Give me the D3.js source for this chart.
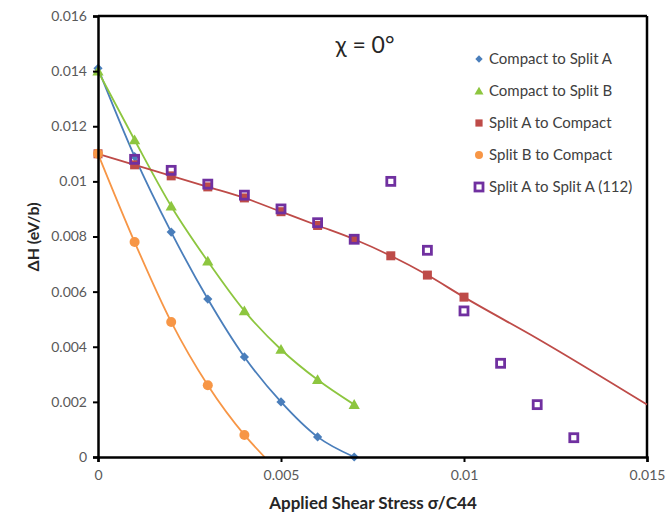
<!DOCTYPE html>
<html>
<head>
<meta charset="utf-8">
<script src="https://cdn.jsdelivr.net/npm/d3@7"></script>
<style>
  body { margin: 0; background: #fff; }
  text { font-family: Lato, "Open Sans", sans-serif; }
</style>
</head>
<body>
<div id="chart"></div>
<script>
// data
var stress = [0, 0.001, 0.002, 0.003, 0.004, 0.005, 0.006, 0.007, 0.008, 0.009, 0.010, 0.011, 0.012, 0.013];
var compactToSplitA = [0.0141, 0.0109, 0.00816, 0.00573, 0.00363, 0.0020, 0.00073, 0.0];
var compactToSplitB = [0.0140, 0.0115, 0.0091, 0.0071, 0.0053, 0.0039, 0.0028, 0.0019];
var splitAToCompact = [0.0110, 0.0106, 0.0102, 0.0098, 0.0094, 0.0089, 0.0084, 0.0079, 0.0073, 0.0066, 0.0058];
var splitBToCompact = [0.0110, 0.0078, 0.0049, 0.0026, 0.0008];
var splitAToSplitA = [null, 0.0108, 0.0104, 0.0099, 0.0095, 0.0090, 0.0085, 0.0079, 0.0100, 0.0075, 0.0053, 0.0034, 0.0019, 0.0007];
// where the trend curves run past the last marker
var splitAExtend = [[0.012, 0.0043], [0.015, 0.0019]];
var splitBExtend = [[0.00455, 0.0]];

var xTicks = [0, 0.005, 0.01, 0.015];
var yTicks = [0, 0.002, 0.004, 0.006, 0.008, 0.01, 0.012, 0.014, 0.016];

// set the dimensions and margins of the graph
var margin = { top: 16, right: 21, bottom: 58, left: 98 },
    width = 668 - margin.left - margin.right,
    height = 515 - margin.top - margin.bottom;

var svg = d3.select("#chart")
    .append("svg")
    .attr("width", 668)
    .attr("height", 515);

var g = svg.append("g")
    .attr("transform", "translate(" + margin.left + "," + margin.top + ")");

var x = d3.scaleLinear().domain([0, 0.015]).range([0, width]);
var y = d3.scaleLinear().domain([0, 0.016]).range([height, 0]);

function pts(vals) {
    var out = [];
    vals.forEach(function (v, i) { if (v !== null) out.push([stress[i], v]); });
    return out;
}

var series = [
    { name: "Compact to Split A", color: "#4A7EBB", shape: "diamond", pts: pts(compactToSplitA), line: pts(compactToSplitA) },
    { name: "Compact to Split B", color: "#8DC63F", shape: "triangle", pts: pts(compactToSplitB), line: pts(compactToSplitB) },
    { name: "Split A to Compact", color: "#BE4B48", shape: "square", pts: pts(splitAToCompact), line: pts(splitAToCompact).concat(splitAExtend) },
    { name: "Split B to Compact", color: "#F79646", shape: "circle", pts: pts(splitBToCompact), line: pts(splitBToCompact).concat(splitBExtend) },
    { name: "Split A to Split A (112)", color: "#7030A0", shape: "open", pts: pts(splitAToSplitA), line: null }
];

var line = d3.line()
    .x(function (d) { return x(d[0]); })
    .y(function (d) { return y(d[1]); })
    .curve(d3.curveMonotoneX);

// frame top/right
g.append("line").attr("x1", 0).attr("x2", width).attr("y1", 0).attr("y2", 0)
    .attr("stroke", "#000").attr("stroke-width", 2.5);
g.append("line").attr("x1", width).attr("x2", width).attr("y1", 0).attr("y2", height)
    .attr("stroke", "#000").attr("stroke-width", 2.5);

// curves
series.forEach(function (s) {
    if (!s.line) return;
    g.append("path")
        .datum(s.line)
        .attr("fill", "none")
        .attr("stroke", s.color)
        .attr("stroke-width", 1.8)
        .attr("d", line);
});

function drawMarker(sel, s, cx, cy, scale) {
    var k = scale || 1;
    if (s.shape === "diamond") {
        var r = 4.6 * k;
        sel.append("path")
            .attr("d", "M0," + (-r) + "L" + r + ",0L0," + r + "L" + (-r) + ",0Z")
            .attr("transform", "translate(" + cx + "," + cy + ")")
            .attr("fill", s.color);
    } else if (s.shape === "triangle") {
        sel.append("path")
            .attr("d", d3.symbol().type(d3.symbolTriangle).size(55 * k * k)())
            .attr("transform", "translate(" + cx + "," + (cy + 1) + ")")
            .attr("fill", s.color);
    } else if (s.shape === "square") {
        var a = 9 * k;
        sel.append("rect")
            .attr("x", cx - a / 2).attr("y", cy - a / 2)
            .attr("width", a).attr("height", a)
            .attr("fill", s.color);
    } else if (s.shape === "circle") {
        sel.append("circle")
            .attr("cx", cx).attr("cy", cy).attr("r", 5 * k)
            .attr("fill", s.color);
    } else {
        var b = 8 * k;
        sel.append("rect")
            .attr("x", cx - b / 2).attr("y", cy - b / 2)
            .attr("width", b).attr("height", b)
            .attr("fill", "none")
            .attr("stroke", s.color)
            .attr("stroke-width", 2.8);
    }
}

// markers
series.forEach(function (s) {
    var mg = g.append("g");
    s.pts.forEach(function (d) {
        drawMarker(mg, s, x(d[0]), y(d[1]));
    });
});

// axes
var xAxis = g.append("g")
    .attr("transform", "translate(0," + height + ")")
    .call(d3.axisBottom(x).tickValues(xTicks).tickSize(5).tickFormat(function (d) { return d3.format("~g")(d); }));
var yAxis = g.append("g")
    .call(d3.axisLeft(y).tickValues(yTicks).tickSize(5).tickFormat(function (d) { return d3.format("~g")(d); }));

[xAxis, yAxis].forEach(function (ax) {
    ax.select(".domain").attr("stroke", "#000").attr("stroke-width", 2.5);
    ax.selectAll(".tick line").attr("stroke", "#000").attr("stroke-width", 2);
    ax.selectAll(".tick text")
        .attr("fill", "#595959")
        .style("font-family", "Lato, sans-serif")
        .style("font-size", "14px");
});
xAxis.selectAll(".tick text").attr("dy", "1.1em").attr("y", 8);
yAxis.selectAll(".tick text").attr("x", -11);

// axis titles
svg.append("text")
    .attr("x", 373)
    .attr("y", 509)
    .attr("text-anchor", "middle")
    .style("font-size", "17px")
    .style("font-weight", "bold")
    .attr("fill", "#262626")
    .text("Applied Shear Stress σ/C44");

svg.append("text")
    .attr("transform", "translate(39,237) rotate(-90)")
    .attr("text-anchor", "middle")
    .style("font-size", "16px")
    .style("font-weight", "bold")
    .attr("fill", "#262626")
    .text("ΔH (eV/b)");

// annotation
svg.append("text")
    .attr("x", 365)
    .attr("y", 53)
    .attr("text-anchor", "middle")
    .style("font-size", "23px")
    .attr("fill", "#262626")
    .text("χ = 0°");

// legend
var legend = svg.append("g").attr("transform", "translate(479,59)");
series.forEach(function (s, i) {
    var row = legend.append("g").attr("transform", "translate(0," + (i * 32) + ")");
    drawMarker(row, s, 0, 0, s.shape === "open" ? 1 : 0.8);
    row.append("text")
        .attr("x", 10)
        .attr("y", 5)
        .style("font-size", "15px")
        .attr("fill", "#404040")
        .text(s.name);
});
</script>
</body>
</html>
